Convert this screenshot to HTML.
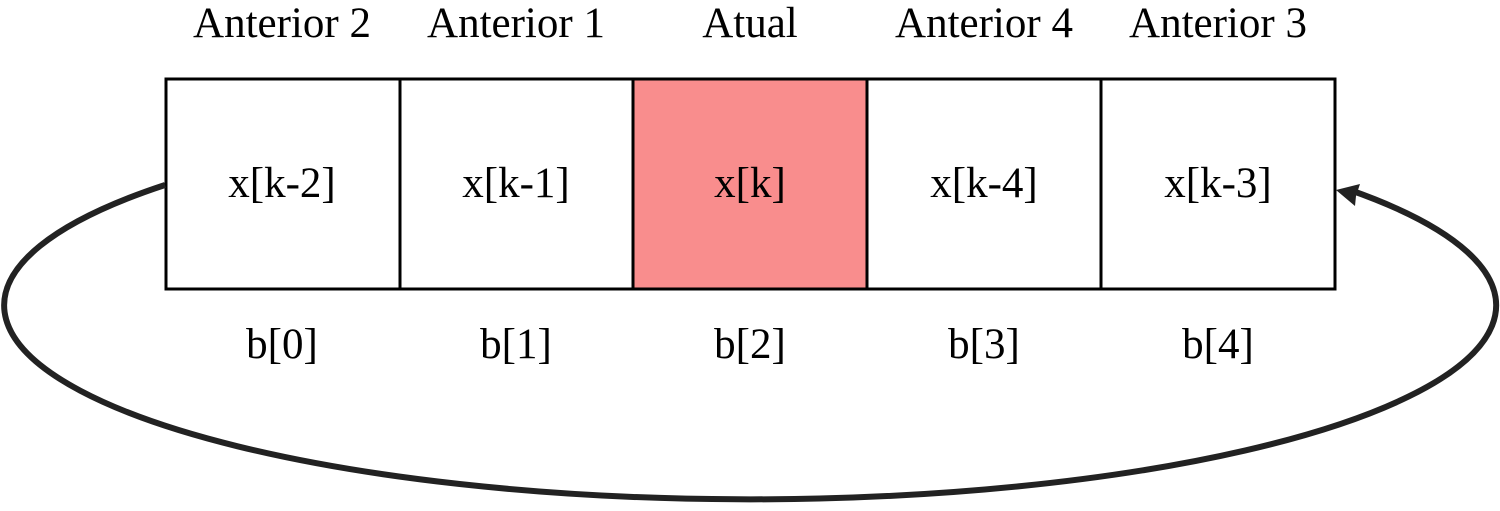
<!DOCTYPE html>
<html><head><style>
html,body{margin:0;padding:0;background:#fff;}
svg text{font-family:"Liberation Serif",serif;font-size:43px;fill:#000;}
</style></head><body>
<svg width="1500" height="506" viewBox="0 0 1500 506" xmlns="http://www.w3.org/2000/svg">
<g text-anchor="middle">
<text x="282" y="37">Anterior 2</text>
<text x="516" y="37">Anterior 1</text>
<text x="750" y="37">Atual</text>
<text x="984" y="37">Anterior 4</text>
<text x="1218" y="37">Anterior 3</text>
</g>
<rect x="633" y="79" width="234" height="210" fill="#f98d8d"/>
<g fill="none" stroke="#000" stroke-width="3">
<rect x="166" y="79" width="1169" height="210"/>
<line x1="400" y1="79" x2="400" y2="289"/>
<line x1="633" y1="79" x2="633" y2="289"/>
<line x1="867" y1="79" x2="867" y2="289"/>
<line x1="1101" y1="79" x2="1101" y2="289"/>
</g>
<g text-anchor="middle">
<text x="282" y="197">x[k-2]</text>
<text x="516" y="197">x[k-1]</text>
<text x="750" y="197">x[k]</text>
<text x="984" y="197">x[k-4]</text>
<text x="1218" y="197">x[k-3]</text>
<text x="282" y="358">b[0]</text>
<text x="516" y="358">b[1]</text>
<text x="750" y="358">b[2]</text>
<text x="984" y="358">b[3]</text>
<text x="1218" y="358">b[4]</text>
</g>
<path d="M165 185 A746 194 0 1 0 1350 190" fill="none" stroke="#222" stroke-width="6"/>
<polygon points="1336,190 1360,184 1356,196 1355,206" fill="#222"/>
</svg>
</body></html>
